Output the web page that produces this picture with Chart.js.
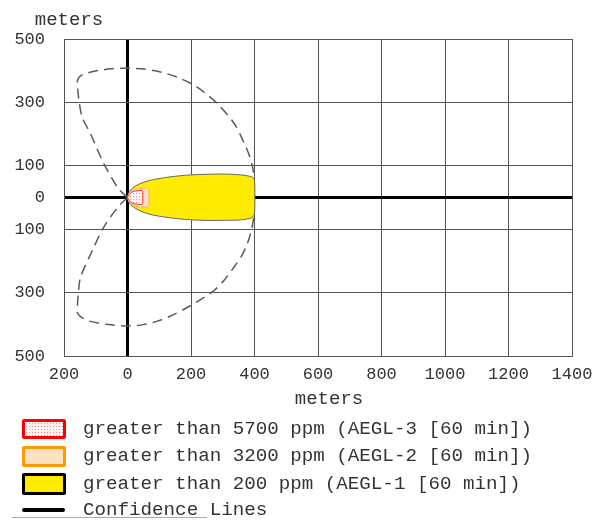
<!DOCTYPE html>
<html><head><meta charset="utf-8">
<script src="https://cdn.jsdelivr.net/npm/chart.js@4.4.1/dist/chart.umd.min.js"></script>
<style>
html,body{margin:0;padding:0;background:#fff;}
#wrap{position:relative;width:594px;height:522px;overflow:hidden;}
#chartBox{position:absolute;left:0;top:0;width:594px;height:522px;}
.lg-box{position:absolute;box-sizing:border-box;}
.lg-text{position:absolute;left:83px;font-family:"Liberation Mono","Courier New",monospace;font-size:19.2px;line-height:22px;color:#333;white-space:pre;}
</style></head><body>
<div id="wrap"><div id="chartBox"><canvas id="c"></canvas></div><div id="legend"></div></div>
<script>
// ---- data ----
const xMin = -200, xMax = 1400, xStep = 200;
const yMin = -500, yMax = 500;
const yTickValues = [-500, -300, -100, 0, 100, 300, 500];
const axisTitle = 'meters';
const legendLabels = [
  'greater than 5700 ppm (AEGL-3 [60 min])',
  'greater than 3200 ppm (AEGL-2 [60 min])',
  'greater than 200 ppm (AEGL-1 [60 min])',
  'Confidence Lines'
];
const aegl3Zone = [[0,0],[6,10],[15,18],[30,21],[46,22],[48,15],[48,0],[48,-15],[46,-22],[30,-21],[15,-18],[6,-10],[0,0]];
const aegl2Zone = [[0,0],[5,13],[15,23],[35,28],[62,29],[67,22],[68,0],[67,-22],[62,-30],[35,-29],[15,-23],[5,-13],[0,0]];
const aegl1Zone = [[0,0],[3,11],[10,24],[20,33],[40,44],[70,54],[120,63],[180,70],[240,73],[300,74],[350,72],[385,67],[398,60],[401,30],[401,0],[401,-30],[398,-58],[385,-66],[350,-71],[300,-72],[240,-72],[180,-69],[120,-62],[70,-53],[40,-42],[20,-31],[10,-22],[3,-11],[0,0]];
const confUpper = [[0,0],[-30,30],[-75,108],[-117,202],[-143,254],[-153,307],[-157,345],[-158,366],[-152,380],[-138,389],[-101,399],[-50,406],[0,408],[52,405],[104,396],[155,380],[205,357],[245,329],[282,297],[335,235],[366,175],[384,132],[394,96],[399,63]];
const confLower = [[0,0],[-30,-30],[-75,-94],[-111,-168],[-148,-252],[-155,-305],[-158,-345],[-158,-363],[-148,-376],[-120,-390],[-60,-401],[0,-405],[50,-401],[94,-390],[140,-372],[188,-347],[230,-322],[272,-294],[305,-260],[335,-220],[360,-183],[377,-147],[390,-105],[398,-62]];
const zoneFills = ['#fff3f3', '#fde1c2', '#ffec00'];
const zoneLines = ['#ff2a2a', '#ffb068', '#666666'];
const legendBorders = ['#ff0000', '#ff9900', '#000000'];
const confColor = '#5a5a5a';

// ---- helpers ----
const pts = a => a.map(p => ({x: p[0], y: p[1]}));
const canvas = document.getElementById('c');
function dotPattern() {
  const p = document.createElement('canvas');
  p.width = 3; p.height = 3;
  const g = p.getContext('2d');
  g.fillStyle = '#fff4f4'; g.fillRect(0, 0, 3, 3);
  g.fillStyle = '#f09090'; g.fillRect(1, 1, 1, 1);
  return canvas.getContext('2d').createPattern(p, 'repeat');
}
const redPattern = dotPattern();

const meterLabels = {
  id: 'meterLabels',
  afterDraw(chart) {
    const c = chart.ctx, a = chart.chartArea;
    c.save();
    c.font = '19px "Liberation Mono", "Courier New", monospace';
    c.fillStyle = '#333';
    c.textAlign = 'center';
    c.textBaseline = 'alphabetic';
    c.fillText(axisTitle, a.left + 5, a.top - 14);
    c.fillText(axisTitle, (a.left + a.right) / 2 + 11, a.bottom + 48);
    c.restore();
  }
};

const gridColor = ctx => (ctx.tick && ctx.tick.value === 0) ? '#000' : '#555';
const gridWidth = ctx => (ctx.tick && ctx.tick.value === 0) ? 3 : 1;
const tickFont = {family: '"Liberation Mono", "Courier New", monospace', size: 17};

new Chart(canvas, {
  type: 'scatter',
  data: {
    datasets: [
      {label: 'confUpper', data: pts(confUpper), showLine: true, fill: false, borderColor: confColor, borderWidth: 1.5, borderDash: [10, 6], order: 0},
      {label: 'confLower', data: pts(confLower), showLine: true, fill: false, borderColor: confColor, borderWidth: 1.5, borderDash: [10, 6], order: 0},
      {label: legendLabels[0], data: pts(aegl3Zone), showLine: true, fill: 'shape', backgroundColor: redPattern, borderColor: zoneLines[0], borderWidth: 1, order: 1},
      {label: legendLabels[1], data: pts(aegl2Zone), showLine: true, fill: 'shape', backgroundColor: zoneFills[1], borderColor: zoneLines[1], borderWidth: 1, order: 2},
      {label: legendLabels[2], data: pts(aegl1Zone), showLine: true, fill: 'shape', backgroundColor: zoneFills[2], borderColor: zoneLines[2], borderWidth: 1, order: 3}
    ]
  },
  options: {
    responsive: true, maintainAspectRatio: false, animation: false,
    layout: {padding: {left: 0, right: 22, top: 39, bottom: 136}},
    plugins: {legend: {display: false}, tooltip: {enabled: false}},
    elements: {point: {radius: 0, hoverRadius: 0}, line: {tension: 0.3}},
    scales: {
      x: {
        type: 'linear', min: xMin, max: xMax, z: 1,
        afterFit(s) { s.height = 30; s.paddingLeft = 0; s.paddingRight = 0; },
        ticks: {stepSize: xStep, padding: 8, color: '#333', font: tickFont, maxRotation: 0, autoSkip: false, callback: v => Math.abs(v)},
        grid: {drawTicks: false, color: gridColor, lineWidth: gridWidth},
        border: {display: true, color: '#555', width: 1}
      },
      y: {
        type: 'linear', min: yMin, max: yMax, z: 1,
        afterFit(s) { s.width = 64; s.paddingTop = 0; s.paddingBottom = 0; },
        afterBuildTicks(s) { s.ticks = yTickValues.map(v => ({value: v})); },
        ticks: {padding: 19, color: '#333', font: tickFont, autoSkip: false, callback: v => Math.abs(v)},
        grid: {drawTicks: false, color: gridColor, lineWidth: gridWidth},
        border: {display: true, color: '#555', width: 1}
      }
    }
  },
  plugins: [meterLabels]
});

// ---- legend (HTML text) ----
const legend = document.getElementById('legend');
const boxTops = [419, 446, 473], boxHeights = [20, 21, 22], textCenters = [429, 456, 484, 510];
for (let i = 0; i < 3; i++) {
  const b = document.createElement('div');
  b.className = 'lg-box';
  b.style.cssText = `left:22px;top:${boxTops[i]}px;width:44px;height:${boxHeights[i]}px;border:3px solid ${legendBorders[i]};border-radius:2px;background:${zoneFills[i]};`;
  if (i === 0) {
    b.style.backgroundImage = 'radial-gradient(circle, #f09090 0.7px, transparent 0.9px)';
    b.style.backgroundSize = '3px 3px';
  }
  legend.appendChild(b);
}
const ln = document.createElement('div');
ln.className = 'lg-box';
ln.style.cssText = 'left:22px;top:508px;width:43px;height:4px;background:#000;border-radius:2px;';
legend.appendChild(ln);
const ul = document.createElement('div');
ul.className = 'lg-box';
ul.style.cssText = 'left:12px;top:517px;width:195px;height:1px;background:#aaa;';
legend.appendChild(ul);
legendLabels.forEach((t, i) => {
  const d = document.createElement('div');
  d.className = 'lg-text';
  d.style.top = (textCenters[i] - 11) + 'px';
  d.textContent = t;
  legend.appendChild(d);
});
</script>
</body></html>
